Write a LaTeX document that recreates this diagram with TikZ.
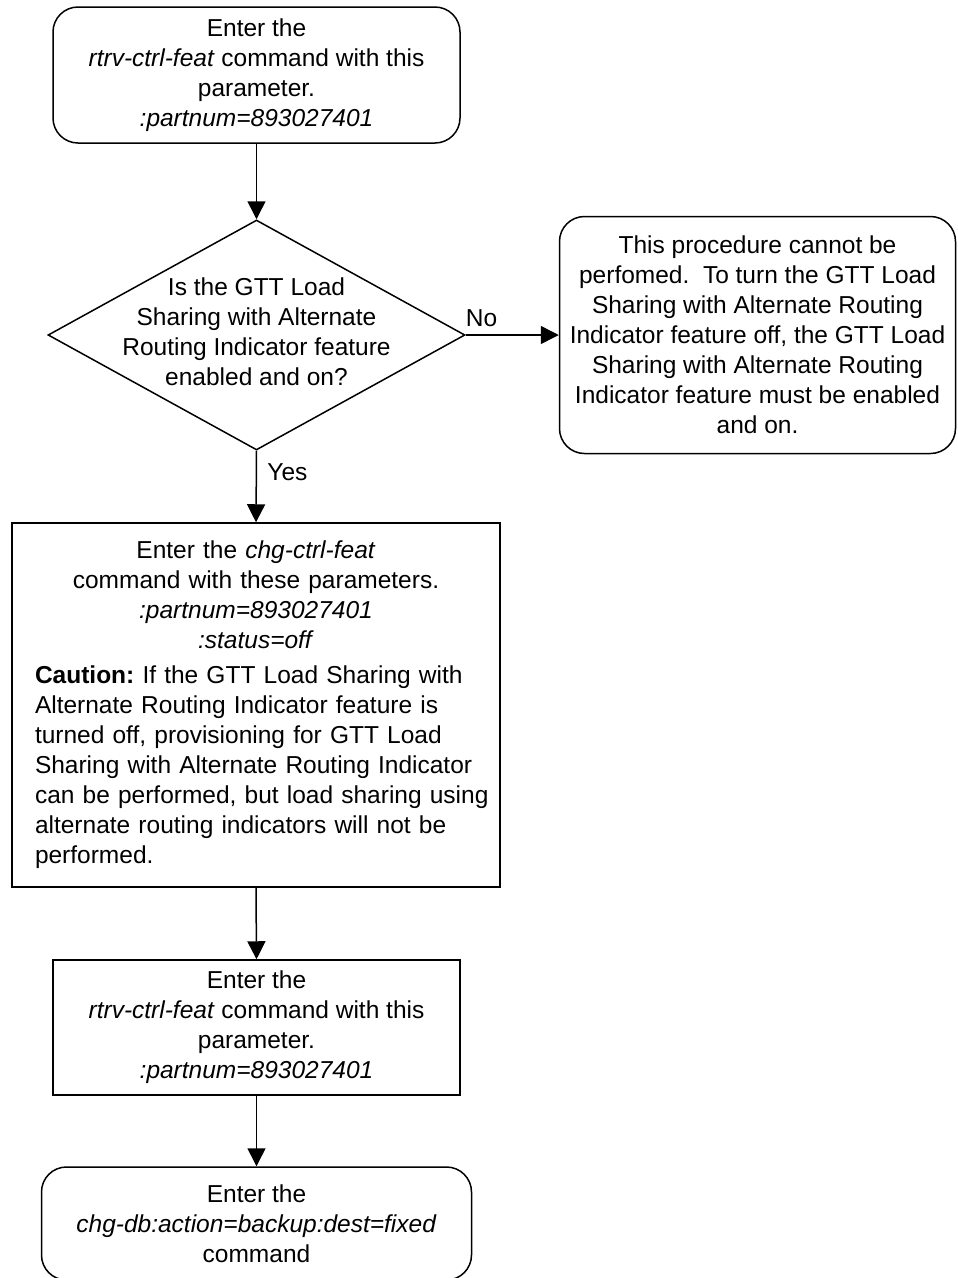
\documentclass[tikz,border=0pt]{standalone}
\usepackage{fontspec}
\setmainfont{Liberation Sans}
\usetikzlibrary{shapes.geometric,arrows.meta}
\hfuzz=100pt
\frenchspacing
\tikzset{
  roundbox/.style={draw,rounded corners=25pt,line width=1.5pt,align=center,inner sep=0pt},
  plainbox/.style={draw,line width=1.5pt,inner sep=0pt},
  decision/.style={draw,diamond,line width=1.5pt,inner sep=0pt},
  flow/.style={line width=1.5pt,-{Triangle[length=18pt,width=18pt]}}
}
\begin{document}
\begin{tikzpicture}[x=1pt,y=-1pt,font=\fontsize{24.5}{30}\selectfont]
    \useasboundingbox (0,0) rectangle (958,1278);
    \clip (0,0) rectangle (958,1278);
    % 开始
    \node[roundbox,minimum width=407pt,minimum height=136pt] (start) at (256.5,75)
      {Enter the\\ \textit{rtrv-ctrl-feat} command with this\\ parameter.\\ \textit{:partnum=893027401}};
    % 判断
    \node[decision,minimum width=417pt,minimum height=230pt] (check) at (256.5,335) {};
    \node[align=center,yshift=3pt] (checktext) at (check.center)
      {Is the GTT Load\\ Sharing with Alternate\\ Routing Indicator feature\\ enabled and on?};
    % 不能执行
    \node[roundbox,minimum width=396pt,minimum height=237pt] (stop) at (757.5,335)
      {This procedure cannot be\\ perfomed.~ To turn the GTT Load\\ Sharing with Alternate Routing\\ Indicator feature off, the GTT Load\\ Sharing with Alternate Routing\\ Indicator feature must be enabled\\ and on.};
    % 关闭功能
    \node[plainbox,minimum width=488pt,minimum height=364pt,text width=442pt,align=left] (chgfeat) at (256,705)
      {{\centering Enter the \textit{chg-ctrl-feat}\\ command with these parameters.\\ \textit{:partnum=893027401}\\ \textit{:status=off}\par}
       \vspace{5pt}
       \textbf{Caution:} If the GTT Load Sharing with\\ Alternate Routing Indicator feature is\\ turned off, provisioning for GTT Load\\ Sharing with Alternate Routing Indicator\\ \mbox{can be performed, but load sharing using}\\ alternate routing indicators will not be\\ performed.};
    % 查询
    \node[plainbox,minimum width=407pt,minimum height=135pt,align=center] (rtrvfeat) at (256.5,1027.5)
      {Enter the\\ \textit{rtrv-ctrl-feat} command with this\\ parameter.\\ \textit{:partnum=893027401}};
    % 备份
    \node[roundbox,minimum width=430pt,minimum height=113pt] (backup) at (256.5,1223.5)
      {Enter the\\ \textit{chg-db:action=backup:dest=fixed}\\ command};
    % 连线
    \draw[flow] (start.south) -- (check.north);
    \draw[flow] (check.east) -- (stop.west) node[pos=0.17,above=4pt] (nolabel) {No};
    \draw[flow] (check.south) -- (chgfeat.north) node[pos=0.3,right=7pt] (yeslabel) {Yes};
    \draw[flow] (chgfeat.south) -- (rtrvfeat.north);
    \draw[flow] (rtrvfeat.south) -- (backup.north);
  \end{tikzpicture}
\end{document}
